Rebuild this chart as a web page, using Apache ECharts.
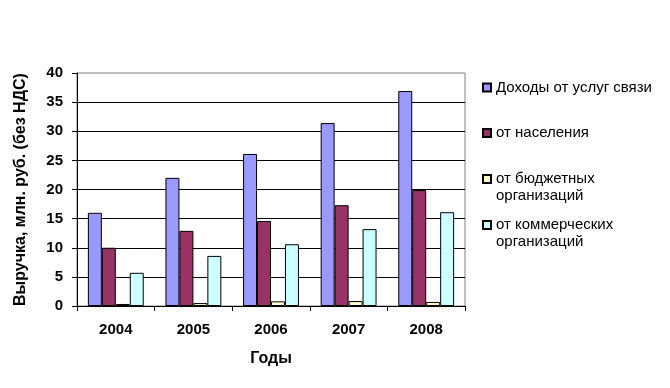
<!DOCTYPE html>
<html>
<head>
<meta charset="utf-8">
<script src="https://cdn.jsdelivr.net/npm/echarts@6/dist/echarts.min.js"></script>
<style>
html,body{margin:0;padding:0;background:#fff;}
#chart{width:670px;height:388px;}
</style>
</head>
<body>
<div id="chart"></div>
<script>
const categories = ['2004', '2005', '2006', '2007', '2008'];
const seriesNames = ['Доходы от услуг связи', 'от населения', 'от бюджетных организаций', 'от коммерческих организаций'];
const incomeTotal = [16, 22, 26.1, 31.4, 36.9];
const incomePopulation = [10, 12.9, 14.6, 17.3, 19.9];
const incomeBudget = [0.35, 0.5, 0.8, 0.85, 0.7];
const incomeCommercial = [5.7, 8.6, 10.6, 13.2, 16.1];
const yTicks = {min: 0, max: 40, interval: 5};

const colors = ['#9999FF', '#993366', '#FFFFCC', '#CCFFFF'];
const values = [incomeTotal, incomePopulation, incomeBudget, incomeCommercial];
const font = 'Liberation Sans, Arial, sans-serif';

// legend: first line via legend, second line (if any) as text beneath
const legendFirstLine = ['Доходы от услуг связи', 'от населения', 'от бюджетных', 'от коммерческих'];
const legendSecondLine = ['', '', 'организаций', 'организаций'];
const legendCenters = [87.5, 133, 179, 225];
const lineStep = 17;

const legends = seriesNames.map((name, i) => ({
  data: [name],
  left: 482,
  top: legendCenters[i] - 8,
  padding: 0,
  orient: 'vertical',
  itemWidth: 8,
  itemHeight: 8,
  itemGap: 0,
  icon: 'rect',
  selectedMode: false,
  formatter: () => legendFirstLine[i],
  textStyle: {fontFamily: font, fontSize: 15, color: '#000', lineHeight: 16}
}));

const graphics = legendSecondLine.map((t, i) => t ? {
  type: 'text',
  left: 496,
  top: legendCenters[i] + lineStep - 8,
  style: {text: t, font: '15px ' + font, fill: '#000', lineHeight: 16}
} : null).filter(Boolean);

const chart = echarts.init(document.getElementById('chart'), null, {renderer: 'canvas'});
chart.setOption({
  animation: false,
  backgroundColor: '#fff',
  grid: {left: 77, right: 205, top: 73, bottom: 82, show: true, borderColor: '#808080', borderWidth: 1, backgroundColor: 'transparent'},
  legend: legends,
  graphic: graphics,
  xAxis: {
    type: 'category',
    data: categories,
    name: 'Годы',
    nameLocation: 'middle',
    nameGap: 45,
    nameTextStyle: {fontFamily: font, fontSize: 16, fontWeight: 'bold', color: '#000'},
    axisLine: {lineStyle: {color: '#000', width: 1}},
    axisTick: {show: true, length: 5, lineStyle: {color: '#000'}},
    axisLabel: {fontFamily: font, fontSize: 15, fontWeight: 'bold', color: '#000', margin: 16}
  },
  yAxis: {
    type: 'value',
    min: yTicks.min, max: yTicks.max, interval: yTicks.interval,
    name: 'Выручка, млн. руб. (без НДС)',
    nameLocation: 'middle',
    nameGap: 48,
    nameRotate: 90,
    nameTextStyle: {fontFamily: font, fontSize: 16, fontWeight: 'bold', color: '#000'},
    axisLine: {show: true, lineStyle: {color: '#000', width: 1}},
    axisTick: {show: true, length: 5, lineStyle: {color: '#000'}},
    axisLabel: {fontFamily: font, fontSize: 15, fontWeight: 'bold', color: '#000', margin: 14},
    splitLine: {show: true, showMaxLine: false, lineStyle: {color: '#000', width: 1}}
  },
  series: seriesNames.map((name, i) => ({
    name: name,
    type: 'bar',
    data: values[i],
    barGap: '0%',
    barCategoryGap: '28%',
    itemStyle: {color: colors[i], borderColor: '#000', borderWidth: 1}
  }))
});
</script>
</body>
</html>
